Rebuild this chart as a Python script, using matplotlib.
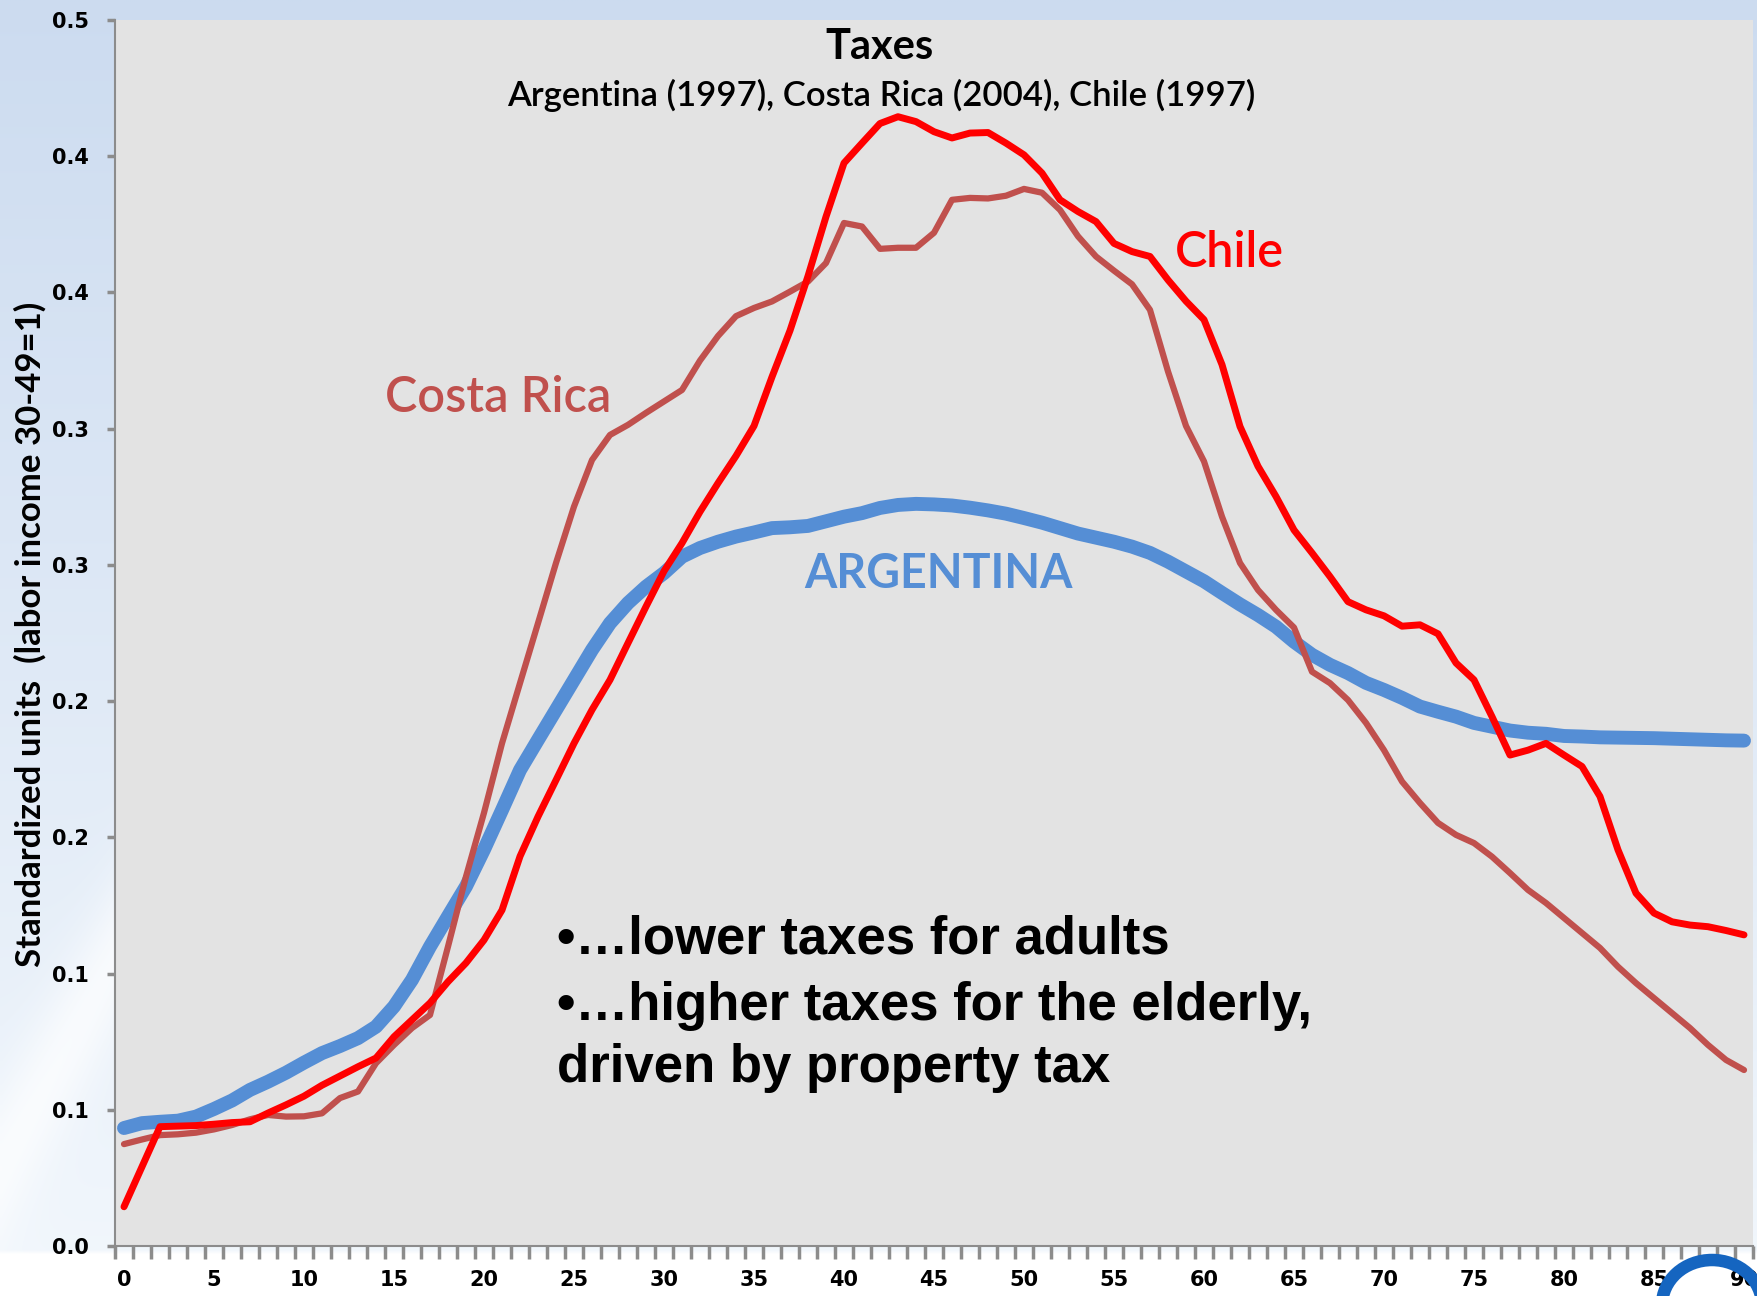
import numpy as np
import matplotlib.pyplot as plt
from matplotlib.patches import Ellipse

# ages 0..90 on a category axis
ages = list(range(91))

argentina = [
    0.0433, 0.0451, 0.0456, 0.0460, 0.0475, 0.0503, 0.0534, 0.0573, 0.0603, 0.0636,
    0.0673, 0.0708, 0.0734, 0.0763, 0.0805, 0.0879, 0.0977, 0.1099, 0.1210, 0.1320,
    0.1455, 0.1600, 0.1747, 0.1858, 0.1968, 0.2078, 0.2188, 0.2286, 0.2360, 0.2420,
    0.2470, 0.2530, 0.2562, 0.2585, 0.2604, 0.2619, 0.2635, 0.2638, 0.2643, 0.2660,
    0.2677, 0.2690, 0.2709, 0.2720, 0.2724, 0.2722, 0.2718, 0.2710, 0.2700, 0.2688,
    0.2672, 0.2655, 0.2635, 0.2615, 0.2600, 0.2585, 0.2567, 0.2544, 0.2512, 0.2476,
    0.2440, 0.2397, 0.2355, 0.2316, 0.2273, 0.2218, 0.2170, 0.2133, 0.2103, 0.2067,
    0.2041, 0.2012, 0.1980, 0.1961, 0.1943, 0.1920, 0.1906, 0.1892, 0.1884, 0.1880,
    0.1872, 0.1870, 0.1867, 0.1866, 0.1865, 0.1864, 0.1862, 0.1860, 0.1858, 0.1856,
    0.1855,
]

costa_rica = [
    0.0374, 0.0391, 0.0407, 0.0410, 0.0416, 0.0428, 0.0444, 0.0465, 0.0481, 0.0475,
    0.0476, 0.0487, 0.0543, 0.0567, 0.0671, 0.0738, 0.0800, 0.0848, 0.1099, 0.1356,
    0.1590, 0.1845, 0.2066, 0.2286, 0.2507, 0.2714, 0.2885, 0.2977, 0.3014, 0.3058,
    0.3100, 0.3142, 0.3250, 0.3340, 0.3413, 0.3443, 0.3467, 0.3503, 0.3540, 0.3608,
    0.3755, 0.3742, 0.3660, 0.3664, 0.3664, 0.3719, 0.3840, 0.3847, 0.3845, 0.3855,
    0.3880, 0.3866, 0.3803, 0.3706, 0.3632, 0.3580, 0.3530, 0.3436, 0.3210, 0.3010,
    0.2880, 0.2677, 0.2507, 0.2408, 0.2335, 0.2270, 0.2108, 0.2066, 0.2004, 0.1920,
    0.1820, 0.1705, 0.1626, 0.1553, 0.1509, 0.1479, 0.1429, 0.1369, 0.1307, 0.1259,
    0.1204, 0.1149, 0.1094, 0.1025, 0.0965, 0.0910, 0.0855, 0.0800, 0.0738, 0.0683,
    0.0646,
]

chile = [
    0.0144, 0.0291, 0.0438, 0.0440, 0.0442, 0.0447, 0.0453, 0.0456, 0.0488, 0.0518,
    0.0550, 0.0590, 0.0624, 0.0658, 0.0690, 0.0768, 0.0830, 0.0892, 0.0970, 0.1039,
    0.1123, 0.1233, 0.1430, 0.1576, 0.1710, 0.1845, 0.1968, 0.2078, 0.2213, 0.2347,
    0.2477, 0.2580, 0.2695, 0.2800, 0.2900, 0.3010, 0.3190, 0.3360, 0.3560, 0.3778,
    0.3975, 0.4048, 0.4120, 0.4145, 0.4127, 0.4090, 0.4067, 0.4085, 0.4087, 0.4048,
    0.4005, 0.3938, 0.3840, 0.3797, 0.3760, 0.3680, 0.3650, 0.3632, 0.3546, 0.3468,
    0.3400, 0.3235, 0.3008, 0.2862, 0.2751, 0.2628, 0.2544, 0.2457, 0.2365, 0.2335,
    0.2313, 0.2275, 0.2280, 0.2247, 0.2140, 0.2078, 0.1943, 0.1802, 0.1820, 0.1845,
    0.1802, 0.1760, 0.1650, 0.1454, 0.1295, 0.1222, 0.1190, 0.1178, 0.1172, 0.1158,
    0.1142,
]

y_ticks = [0.0, 0.05, 0.10, 0.15, 0.20, 0.25, 0.30, 0.35, 0.40, 0.45]
y_tick_labels = ["0.0", "0.1", "0.1", "0.2", "0.2", "0.3", "0.3", "0.4", "0.4", "0.5"]
x_ticks = list(range(0, 91, 5))

W, H = 1758, 1296
fig = plt.figure(figsize=(W / 100, H / 100), dpi=100)

# slide background: light blue gradient, white strip at the bottom
bg = fig.add_axes([0, 0, 1, 1], zorder=-10)
gy, gx = np.mgrid[0:H:4, 0:W:4]
t = (gy / H)[..., None]
top = np.array([0.80, 0.86, 0.94])
low = np.array([0.95, 0.97, 0.99])
img = top * (1 - t) + low * t
streak = np.exp(-(((gx + 0.55 * gy) - 640) / 45.0) ** 2) * (gy > 700)
img = img + (1 - img) * streak[..., None] * 0.7
img[gy > 1250] = 1.0
bg.imshow(img, extent=[0, 1, 0, 1], aspect="auto", interpolation="bilinear")
bg.axis("off")

ax = fig.add_axes([115 / W, 50 / H, (1753 - 115) / W, (1246 - 20) / H])
ax.set_facecolor("#E3E3E3")

ax.plot(ages, argentina, color="#558ED5", lw=10, solid_capstyle="round", solid_joinstyle="round", zorder=3)
ax.plot(ages, costa_rica, color="#C0504D", lw=4.5, solid_capstyle="round", solid_joinstyle="round", zorder=4)
ax.plot(ages, chile, color="#FF0000", lw=5, solid_capstyle="round", solid_joinstyle="round", zorder=5)

ax.set_xlim(-0.5, 90.5)
ax.set_ylim(0, 0.45)

for side in ["top", "right"]:
    ax.spines[side].set_visible(False)
for side in ["left", "bottom"]:
    ax.spines[side].set_color("#8C8C8C")
    ax.spines[side].set_linewidth(1.5)

ax.set_yticks(y_ticks)
ax.set_yticklabels(y_tick_labels)
ax.set_xticks(x_ticks)
ax.set_xticks(np.arange(-0.5, 91, 1), minor=True)
ax.tick_params(axis="x", which="major", length=0, pad=17)
ax.tick_params(axis="x", which="minor", length=9, width=2.5, color="#8C8C8C", direction="out")
ax.tick_params(axis="y", length=6, width=2.5, color="#8C8C8C", direction="out", pad=13)
for lab in ax.get_xticklabels() + ax.get_yticklabels():
    lab.set_fontfamily("DejaVu Sans")
    lab.set_fontweight("bold")
    lab.set_fontsize(15)

# titles
fig.text(880 / W, 1 - 59 / H, "Taxes", ha="center", va="baseline",
         fontsize=30, fontweight="bold", family="Lato")
fig.text(881 / W, 1 - 106 / H, "Argentina (1997), Costa Rica (2004), Chile (1997)",
         ha="center", va="baseline", fontsize=25, fontweight="semibold", family="Lato")

fig.text(30 / W, 1 - 634 / H, "Standardized units  (labor income 30-49=1)", rotation=90,
         ha="center", va="center", fontsize=25, fontweight="bold", family="Lato")

# series labels
fig.text(1175 / W, 1 - 267 / H, "Chile", color="#FF0000", ha="left", va="baseline",
         fontsize=35, fontweight="semibold", family="Lato")
fig.text(385 / W, 1 - 412 / H, "Costa Rica", color="#C0504D", ha="left", va="baseline",
         fontsize=35, fontweight="semibold", family="Lato")
fig.text(804 / W, 1 - 588 / H, "ARGENTINA", color="#558ED5", ha="left", va="baseline",
         fontsize=33.5, fontweight="bold", family="Lato")

# annotation
note = ["\u2022\u2026lower taxes for adults",
        "\u2022\u2026higher taxes for the elderly,",
        "driven by property tax"]
for line, base in zip(note, [953, 1020, 1082]):
    fig.text(557 / W, 1 - base / H, line, ha="left", va="baseline",
             fontsize=38, fontweight="bold", family="Liberation Sans")

# corner logo fragment
fig.patches.append(Ellipse((1712 / W, 1 - 1305 / H), 100 / W, 90 / H,
                           transform=fig.transFigure, fill=False,
                           edgecolor="#1565C0", lw=9, zorder=20))

fig.savefig("out.png", dpi=100)
